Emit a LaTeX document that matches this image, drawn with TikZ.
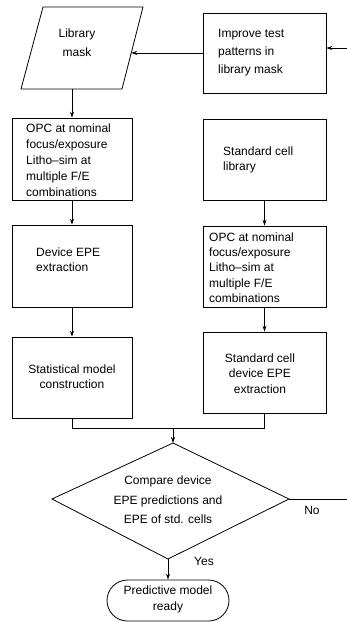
\documentclass[tikz,border=0pt]{standalone}
\usepackage{fontspec}
\setmainfont{Liberation Sans}
\usetikzlibrary{arrows.meta,shapes.misc,calc}
\begin{document}
\begin{tikzpicture}[x=1pt,y=-1pt,
  box/.style={draw, line width=0.8pt, inner sep=0pt},
  txt/.style={inner sep=0pt, font=\fontsize{12}{#1}\selectfont},
  txt/.default=16,
  arr/.style={line width=0.8pt, -{Stealth[length=6pt,width=4pt]}},
  ln/.style={line width=0.8pt}]
\useasboundingbox (0,0) rectangle (347,622);

% parallelogram
\coordinate (ptl) at (43,7);
\coordinate (ptr) at (143,7);
\coordinate (pbr) at (122,89);
\coordinate (pbl) at (21,89);
\draw[ln] (ptl) -- (ptr) -- (pbr) -- (pbl) -- cycle;
\node[txt=19, align=center] (lib) at (77,43) {Library\\mask};

% boxes
\node[box, minimum width=123pt, minimum height=80pt] (imp) at (264.5,53) {};
\node[txt=18, align=left, anchor=west] (timp) at (218,53) {Improve test\\patterns in\\library mask};

\node[box, minimum width=120pt, minimum height=82pt] (opc1) at (72,159) {};
\node[txt=16, align=left, anchor=west] (topc1) at (26,160) {OPC at nominal\\focus/exposure\\Litho\textendash sim at\\multiple F/E\\combinations};

\node[box, minimum width=123pt, minimum height=81pt] (stdlib) at (264.5,159.5) {};
\node[txt=15, align=left, anchor=west] (tstdlib) at (223,159.5) {Standard cell\\library};

\node[box, minimum width=120pt, minimum height=82pt] (epe1) at (72,266) {};
\node[txt=15, align=left, anchor=west] (tepe1) at (36,260) {Device EPE\\extraction};

\node[box, minimum width=123pt, minimum height=81pt] (opc2) at (264.5,266.5) {};
\node[txt=15.3, align=left, anchor=west] (topc2) at (209,267.5) {OPC at nominal\\focus/exposure\\Litho\textendash sim at\\multiple F/E\\combinations};

\node[box, minimum width=120pt, minimum height=81pt] (stat) at (72,377.5) {};
\node[txt=15, align=center] (tstat) at (72,376.5) {Statistical model\\construction};

\node[box, minimum width=123pt, minimum height=81pt] (sepe) at (264.5,372.5) {};
\node[txt=15.5, align=center] (tsepe) at (260,373.5) {Standard cell\\device EPE\\extraction};

% diamond
\coordinate (dt) at (173,443);
\coordinate (dl) at (52,499);
\coordinate (dr) at (289,499);
\coordinate (db) at (168,559);
\draw[ln] (dt) -- (dr) -- (db) -- (dl) -- cycle;
\node[txt=19.5, align=center] (tdia) at (168,500) {Compare device\\EPE predictions and\\EPE of std. cells};

% terminal
\node[draw, line width=0.8pt, rounded rectangle, minimum width=122pt, minimum height=41pt, inner sep=0pt] (term) at (168,600.5) {};
\node[txt=16, align=center] (tterm) at (168,599) {Predictive model\\ready};

% connectors
\coordinate (ein) at (347,48);
\draw[arr] (ein) -- (ein -| imp.east);
\coordinate (libr) at ($(ptr)!0.56!(pbr)$);
\draw[arr] (imp.west |- libr) -- (libr);
\draw[arr] (opc1.north |- pbl) -- (opc1.north);
\draw[arr] (opc1) -- (epe1);
\draw[arr] (epe1) -- (stat);
\draw[arr] (stdlib) -- (opc2);
\draw[arr] (opc2) -- (sepe);
\coordinate (mrg) at (173,428.5);
\draw[ln] (stat.south) |- (mrg) -| (sepe.south);
\draw[arr] (mrg) -- (dt);
\draw[arr] (db) -- (db |- term.north);
\coordinate (eout) at (347,499);
\draw[ln] (dr) -- (eout);
\node[txt] (no) at (312,510) {No};
\node[txt] (yes) at (204,561) {Yes};
\end{tikzpicture}
\end{document}
